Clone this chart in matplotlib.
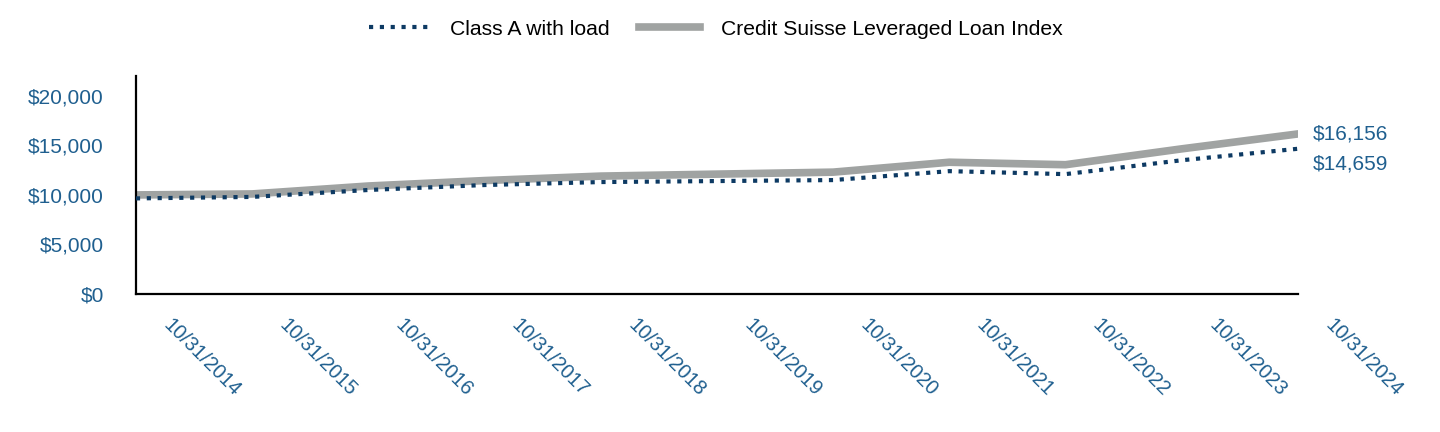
import matplotlib
matplotlib.use("Agg")
import matplotlib.pyplot as plt
import matplotlib.transforms as mtrans
from matplotlib.ticker import FuncFormatter

plt.rcParams['font.family'] = ['Liberation Sans', 'DejaVu Sans']

# Datos
fechas = ['10/31/2014', '10/31/2015', '10/31/2016', '10/31/2017', '10/31/2018', '10/31/2019',
          '10/31/2020', '10/31/2021', '10/31/2022', '10/31/2023', '10/31/2024']
clase_a = [9650, 9800, 10500, 11000, 11300, 11400, 11500, 12400, 12100, 13500, 14659]
indice = [10000, 10100, 10900, 11450, 11900, 12100, 12300, 13300, 13050, 14650, 16156]

azul = '#0d3a63'
gris = '#a0a3a2'
texto = '#1f5f8f'

fig = plt.figure(figsize=(14.4, 4.32), dpi=100)
ax = fig.add_axes([0.0944, 0.3194, 0.8069, 0.5046])

x = list(range(len(fechas)))
ax.plot(x, clase_a, color=azul, linewidth=3, linestyle=(0, (1, 1.6)), label='Class A with load', zorder=3)
ax.plot(x, indice, color=gris, linewidth=5.5, label='Credit Suisse Leveraged Loan Index', zorder=2)

ax.set_xlim(0, len(fechas) - 1)
ax.set_ylim(0, 22000)
ax.set_yticks([0, 5000, 10000, 15000, 20000])
ax.yaxis.set_major_formatter(FuncFormatter(lambda v, p: '${:,.0f}'.format(v)))
ax.set_xticks(x)
ax.set_xticklabels(fechas, rotation=-45, ha='left', va='top', rotation_mode='anchor')

ax.tick_params(axis='both', length=0, labelcolor=texto)
ax.tick_params(axis='y', pad=23, labelsize=15)
ax.tick_params(axis='x', pad=0, labelsize=14.5)

# mover etiquetas del eje x
desplaza = mtrans.ScaledTranslation(0.37, -0.21, fig.dpi_scale_trans)
for etq in ax.get_xticklabels():
    etq.set_transform(etq.get_transform() + desplaza)

for s in ['top', 'right']:
    ax.spines[s].set_visible(False)
for s in ['left', 'bottom']:
    ax.spines[s].set_linewidth(1.6)
    ax.spines[s].set_color('black')

# Etiquetas al final
ax.text(x[-1] + 0.13, indice[-1], '${:,}'.format(indice[-1]), color=texto, fontsize=15, va='center', ha='left')
ax.text(x[-1] + 0.13, clase_a[-1] - 1500, '${:,}'.format(clase_a[-1]), color=texto, fontsize=15, va='center', ha='left')

fig.legend(loc='upper center', bbox_to_anchor=(0.497, 0.998), ncol=2, frameon=False, fontsize=15.2,
           handlelength=2.85, handletextpad=1.0, columnspacing=1.4)

fig.savefig('out.png', dpi=100)
